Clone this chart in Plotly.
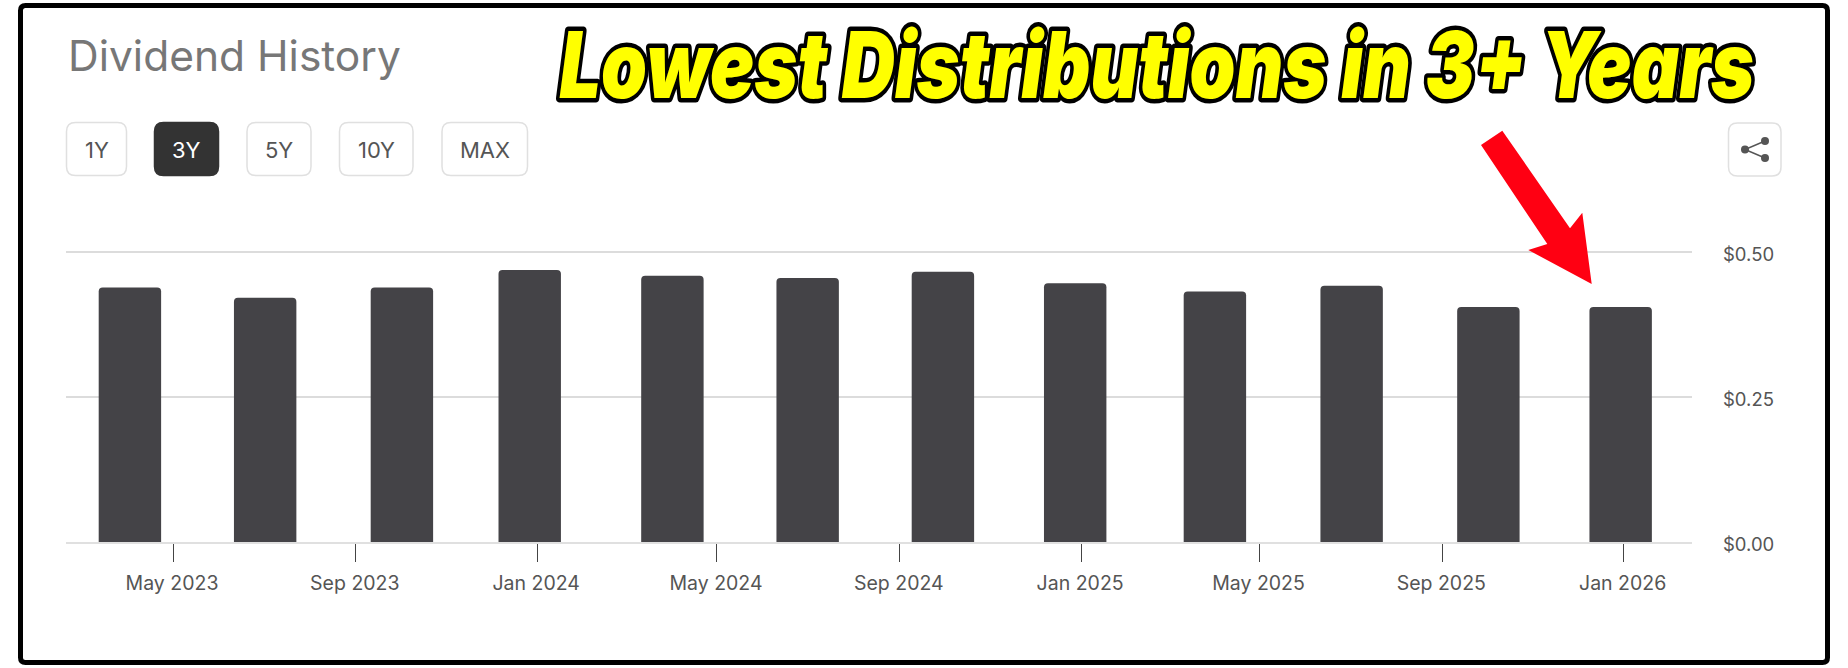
import plotly.graph_objects as go

pay_dates = ["2023-04-02", "2023-07-02", "2023-10-02", "2023-12-27", "2024-04-01", "2024-07-01",
             "2024-09-30", "2024-12-28", "2025-04-01", "2025-07-02", "2025-10-02", "2025-12-30"]
dividends = [0.439, 0.421, 0.439, 0.469, 0.459, 0.455, 0.466, 0.446, 0.432, 0.442, 0.405, 0.405]
x_tick_dates = ["2023-05-01", "2023-09-01", "2024-01-01", "2024-05-01", "2024-09-01", "2025-01-01",
                "2025-05-01", "2025-09-01", "2026-01-01"]
x_tick_labels = ["May 2023", "Sep 2023", "Jan 2024", "May 2024", "Sep 2024", "Jan 2025",
                 "May 2025", "Sep 2025", "Jan 2026"]
y_ticks = [0, 0.25, 0.5]
y_tick_labels = ["$0.00", "$0.25", "$0.50"]
range_buttons = ["1Y", "3Y", "5Y", "10Y", "MAX"]
active_button = "3Y"
title_text = "Dividend History"
headline = "Lowest Distributions in 3+ Years"

W, H = 1848, 668
L, R, T, B = 66, 1692, 194, 542
FONT = "Inter, 'Open Sans', sans-serif"


def px(x):
    return (x - L) / (R - L)


def py(y):
    return (B - y) / (B - T)


def rrect(x0, y0, x1, y1, r):
    a, b, c, d = px(x0), px(x1), py(y0), py(y1)
    rx, ry = r / (R - L), r / (B - T)
    return (f"M{a + rx},{c} L{b - rx},{c} Q{b},{c} {b},{c - ry} L{b},{d + ry} Q{b},{d} {b - rx},{d} "
            f"L{a + rx},{d} Q{a},{d} {a},{d + ry} L{a},{c - ry} Q{a},{c} {a + rx},{c} Z")


def paper_shape(path, fill="rgba(0,0,0,0)", line="rgba(0,0,0,0)", width=0):
    return dict(type="path", xref="paper", yref="paper", path=path, fillcolor=fill,
                line=dict(color=line, width=width), layer="above")


def poly(points):
    return "M" + " L".join(f"{px(x)},{py(y)}" for x, y in points) + " Z"


def note(text, x, y, size, color, anchor="center", **font):
    return dict(text=text, x=px(x), y=py(y), xref="paper", yref="paper", xanchor=anchor, yanchor="middle",
                showarrow=False, font=dict(family=FONT, size=size, color=color, **font))


fig = go.Figure(go.Bar(x=pay_dates, y=dividends, width=42 * 86400000,
                       marker=dict(color="#444347", cornerradius=4, line=dict(width=0))))

shapes = [paper_shape(rrect(20.5, 5.5, 1827.5, 662.5, 5), line="#000000", width=5)]
annotations = [note(title_text, 65.5, 55, 42.5, "#777777", anchor="left")]

button_boxes = [(66.5, 126.5), (154.5, 218.5), (247, 311), (339.5, 413), (442, 527.5)]
for label, (x0, x1) in zip(range_buttons, button_boxes):
    on = label == active_button
    shapes.append(paper_shape(rrect(x0, 122.5, x1, 175.5, 9), fill="#333333" if on else "#ffffff",
                              line="#333333" if on else "#e0e0e0", width=1.5))
    annotations.append(note(label, (x0 + x1) / 2, 150, 22, "#ffffff" if on else "#555555"))

# share button
shapes.append(paper_shape(rrect(1728.5, 123, 1781, 176, 9), fill="#ffffff", line="#e0e0e0", width=1.5))
nodes = [(1765, 141), (1745, 149.5), (1765, 158)]
shapes.append(paper_shape(f"M{px(nodes[0][0])},{py(nodes[0][1])} L{px(nodes[1][0])},{py(nodes[1][1])} "
                          f"L{px(nodes[2][0])},{py(nodes[2][1])}", line="#555555", width=1.5))
for cx, cy in nodes:
    shapes.append(dict(type="circle", xref="paper", yref="paper", x0=px(cx - 4), x1=px(cx + 4),
                       y0=py(cy + 4), y1=py(cy - 4), fillcolor="#555555", line=dict(width=0), layer="above"))

# red arrow
shapes.append(paper_shape(poly([(1481, 145), (1502.3, 130.7), (1570, 228.3), (1582.3, 212.7),
                                (1591.7, 284), (1528.3, 250), (1547.3, 244)]), fill="#ff0012"))

annotations.append(note(headline, 1157, 64, 66, "#ffff00", weight=900, style="italic"))

fig.update_layout(
    width=W, height=H, autosize=False, margin=dict(l=L, r=W - R, t=T, b=H - B),
    paper_bgcolor="#ffffff", plot_bgcolor="#ffffff", showlegend=False,
    font=dict(family=FONT, color="#555555"), shapes=shapes, annotations=annotations,
    xaxis=dict(type="date", range=["2023-02-18", "2026-02-16"], tickmode="array", tickvals=x_tick_dates,
               ticktext=x_tick_labels, ticks="outside", ticklen=18, tickcolor="#444444", tickwidth=1.2,
               tickfont=dict(size=19.5, color="#555555"), showgrid=False, showline=True,
               linecolor="#e0e0e0", linewidth=1.5, zeroline=False, ticklabelstandoff=5, ticklabelshift=-1),
    yaxis=dict(range=[0, 0.6], side="right", tickmode="array", tickvals=y_ticks, ticktext=y_tick_labels,
               ticks="", tickfont=dict(size=18.5, color="#555555"), showgrid=True, gridcolor="#dcdcdc",
               gridwidth=1.5, showline=False, zeroline=False, ticklabelstandoff=30, ticklabelshift=3),
)

post = """
document.documentElement.style.overflow='hidden';
document.body.style.margin='0';
document.querySelectorAll('g.annotation text').forEach(function(t){
  if(t.textContent.indexOf('Lowest')===0){
    t.style.fontSize='92px';
    t.setAttribute('y', String(parseFloat(t.getAttribute('y'))+10));
    var sx = 1195 / t.getComputedTextLength();
    t.style.transformBox='fill-box';
    t.style.transformOrigin='center';
    t.style.transform='scaleX('+sx+')';
    t.style.stroke='#000';
    t.style.strokeWidth='9px';
    t.style.strokeLinejoin='round';
    t.style.paintOrder='stroke';
  }
});
"""
fig.write_html("out.html", post_script=post, config=dict(displayModeBar=False))
